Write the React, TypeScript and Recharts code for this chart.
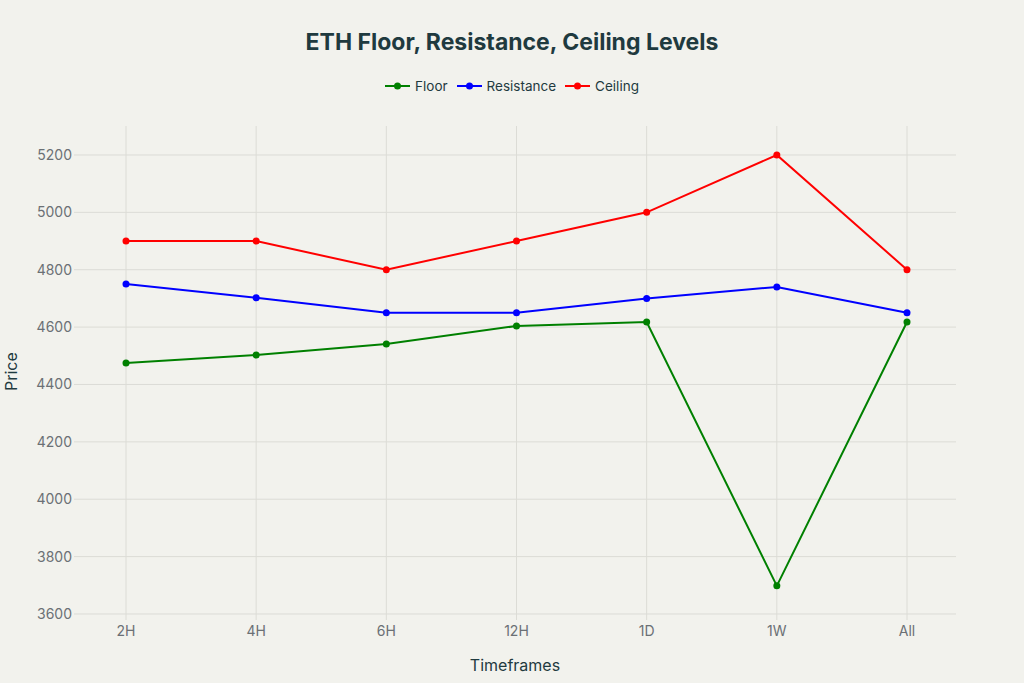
import React from 'react';
import { LineChart, Line, XAxis, YAxis, ReferenceLine } from 'recharts';

const timeframes = ['2H', '4H', '6H', '12H', '1D', '1W', 'All'];
const floorValues = [4475, 4503, 4541, 4604, 4618, 3698, 4618];
const resistanceValues = [4750, 4702, 4650, 4650, 4700, 4740, 4650];
const ceilingValues = [4900, 4900, 4800, 4900, 5000, 5200, 4800];
const priceTicks = [3600, 3800, 4000, 4200, 4400, 4600, 4800, 5000, 5200];

const series = [
  { key: 'floor', name: 'Floor', color: '#008000' },
  { key: 'resistance', name: 'Resistance', color: '#0000ff' },
  { key: 'ceiling', name: 'Ceiling', color: '#ff0000' },
];

const data = timeframes.map((t, i) => ({
  timeframe: t,
  floor: floorValues[i],
  resistance: resistanceValues[i],
  ceiling: ceilingValues[i],
}));

const FONT = 'Inter, "Open Sans", sans-serif';
const TEXT = '#1f3a3f';
const GRID = '#dcdcd6';

function LegendRow() {
  return (
    <div style={{ position: 'absolute', top: 78, left: 0, width: 1024, display: 'flex', justifyContent: 'center', alignItems: 'center', fontFamily: FONT, fontSize: 13.5, color: TEXT }}>
      {series.map((s, i) => (
        <div key={s.key} style={{ display: 'flex', alignItems: 'center', marginLeft: i === 0 ? 0 : 9 }}>
          <svg width={25} height={10} style={{ marginRight: 5 }}>
            <line x1={0} y1={5} x2={25} y2={5} stroke={s.color} strokeWidth={2} />
            <circle cx={12.5} cy={5} r={3.5} fill={s.color} />
          </svg>
          <span>{s.name}</span>
        </div>
      ))}
    </div>
  );
}

export default function App() {
  return (
    <div style={{ position: 'absolute', top: 0, left: 0, width: 1024, height: 683, background: '#f2f2ed' }}>
      <div style={{ position: 'absolute', top: 28, width: 1024, textAlign: 'center', fontFamily: FONT, fontWeight: 700, fontSize: 23, color: TEXT }}>
        ETH Floor, Resistance, Ceiling Levels
      </div>
      <LegendRow />
      <LineChart width={1024} height={683} data={data} margin={{ top: 126, right: 68, bottom: 33, left: 14 }}>
        <XAxis
          dataKey="timeframe"
          height={30}
          axisLine={false}
          tickLine={false}
          tickSize={0}
          tickMargin={6}
          padding={{ left: 52, right: 49 }}
          tick={{ fill: '#6b7075', fontSize: 14, fontFamily: FONT }}
          label={{ value: 'Timeframes', position: 'bottom', offset: 10, fill: TEXT, fontSize: 16, fontFamily: FONT }}
        />
        <YAxis
          width={60}
          domain={[3579, 5301]}
          ticks={priceTicks}
          allowDataOverflow
          axisLine={false}
          tickLine={false}
          tickSize={2}
          tickMargin={0}
          tick={{ fill: '#6b7075', fontSize: 14, fontFamily: FONT }}
          label={{ value: 'Price', angle: -90, position: 'insideLeft', offset: -3, dy: 18, fill: TEXT, fontSize: 16, fontFamily: FONT }}
        />
        {priceTicks.map((v) => (
          <ReferenceLine key={'h' + v} y={v} stroke={GRID} strokeWidth={1} ifOverflow="extendDomain" />
        ))}
        {timeframes.map((t) => (
          <ReferenceLine key={'v' + t} x={t} stroke={GRID} strokeWidth={1} />
        ))}
        {series.map((s) => (
          <Line
            key={s.key}
            type="linear"
            dataKey={s.key}
            name={s.name}
            stroke={s.color}
            strokeWidth={2}
            dot={{ r: 3.5, fill: s.color, stroke: s.color, strokeWidth: 0 }}
            activeDot={false}
            isAnimationActive={false}
          />
        ))}
      </LineChart>
    </div>
  );
}
